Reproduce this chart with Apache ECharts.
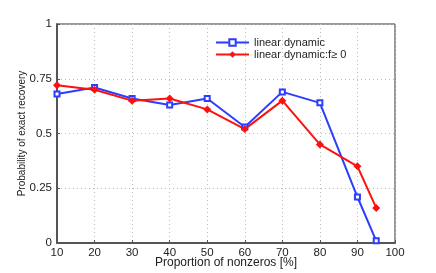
<!DOCTYPE html>
<html><head><meta charset="utf-8">
<script src="https://cdn.jsdelivr.net/npm/echarts@6/dist/echarts.min.js"></script>
<style>html,body{margin:0;padding:0;background:#fff}#c{width:436px;height:273px}</style>
</head><body><div id="c"></div>
<script>
const xValues = [10, 20, 30, 40, 50, 60, 70, 80, 90, 95];
const linearDynamic = [0.68, 0.71, 0.66, 0.63, 0.66, 0.53, 0.69, 0.64, 0.21, 0.01];
const linearDynamicNonneg = [0.72, 0.70, 0.65, 0.66, 0.61, 0.52, 0.65, 0.45, 0.35, 0.16];
const seriesNames = ['linear dynamic', 'linear dynamic:f\u2265 0'];
const yTickLabels = {0: '0', 0.25: '0.25', 0.5: '0.5', 0.75: '0.75', 1: '1'};

const chart = echarts.init(document.getElementById('c'));
const font = 'Liberation Sans, Arial, sans-serif';
chart.setOption({
  animation: false,
  grid: {left: 57, right: 41, top: 24, bottom: 30, show: true, borderColor: '#333', borderWidth: 1,
         containLabel: false, outerBoundsMode: 'none'},
  legend: {
    left: 210, top: 32, orient: 'vertical', itemGap: 1, itemWidth: 33, itemHeight: 8,
    textStyle: {fontFamily: font, fontSize: 11, color: '#222'},
    data: seriesNames
  },
  xAxis: {
    type: 'value', min: 10, max: 100, interval: 10,
    name: 'Proportion of nonzeros [%]', nameLocation: 'middle', nameGap: 14, nameMoveOverlap: false,
    nameTextStyle: {fontFamily: font, fontSize: 12, color: '#222'},
    axisLine: {show: true, lineStyle: {color: '#555', width: 2}},
    axisTick: {show: true, inside: true, length: 3, lineStyle: {color: '#555'}},
    axisLabel: {fontFamily: font, fontSize: 11.5, color: '#222', margin: 4},
    splitLine: {show: true, lineStyle: {color: '#bbb', type: [1, 3], width: 1}}
  },
  yAxis: {
    type: 'value', min: 0, max: 1, interval: 0.25,
    name: 'Probability of exact recovery', nameLocation: 'middle', nameGap: 30, nameMoveOverlap: false,
    nameTextStyle: {fontFamily: font, fontSize: 10, color: '#222'},
    axisLine: {show: true, lineStyle: {color: '#555', width: 2}},
    axisTick: {show: true, inside: true, length: 3, lineStyle: {color: '#555'}},
    axisLabel: {fontFamily: font, fontSize: 11.5, color: '#222', margin: 5,
      formatter: v => yTickLabels[v] !== undefined ? yTickLabels[v] : ''},
    splitLine: {show: true, lineStyle: {color: '#bbb', type: [1, 3], width: 1}}
  },
  series: [
    {
      name: seriesNames[0], type: 'line',
      data: xValues.map((x, i) => [x, linearDynamic[i]]),
      symbol: 'emptyRect', symbolSize: 5,
      lineStyle: {color: '#2b3dff', width: 2},
      itemStyle: {color: '#2b3dff', borderColor: '#2b3dff', borderWidth: 1.5}
    },
    {
      name: seriesNames[1], type: 'line',
      data: xValues.map((x, i) => [x, linearDynamicNonneg[i]]),
      symbol: 'diamond', symbolSize: 8,
      lineStyle: {color: '#ff1010', width: 2},
      itemStyle: {color: '#ff1010'}
    }
  ]
});
</script></body></html>
